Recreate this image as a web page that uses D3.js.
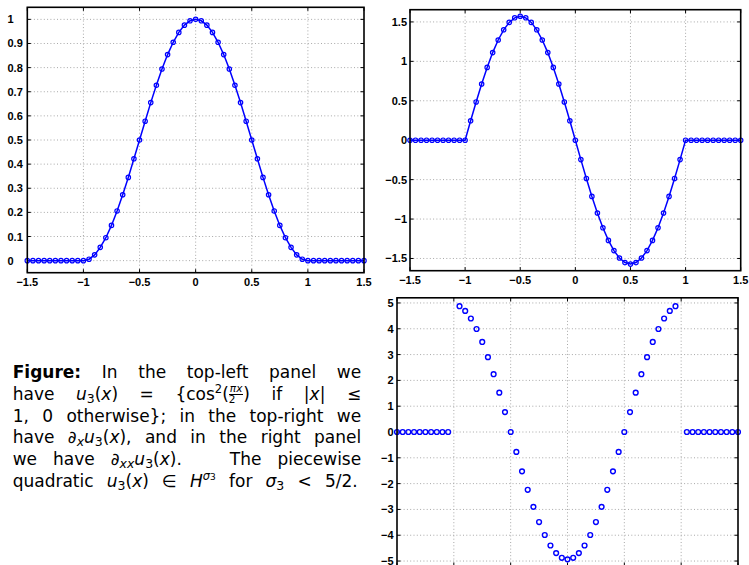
<!DOCTYPE html>
<html><head><meta charset="utf-8">
<script src="https://cdn.jsdelivr.net/npm/d3@7"></script>
<style>
html,body{margin:0;padding:0;background:#fff;}
#wrap{position:relative;width:749px;height:565px;overflow:hidden;}
svg{position:absolute;left:0;top:0;}
.cap{position:absolute;left:12.7px;width:348.5px;height:21.8px;line-height:21.8px;font-family:"DejaVu Sans",sans-serif;font-size:17px;color:#000;text-align:justify;text-align-last:justify;white-space:normal;}
.cap b{font-weight:bold;}
.cap i{font-style:italic;}
.cap sub{font-size:12.5px;vertical-align:-3px;line-height:0;}
.cap sup{font-size:11.5px;vertical-align:7px;line-height:0;}
.frac{display:inline-block;vertical-align:-3px;text-align:center;font-size:10.5px;line-height:9.5px;}
.frac .num{display:block;border-bottom:0.9px solid #000;padding:0 1px;}
.frac .den{display:block;}
</style></head>
<body><div id="wrap"><svg id="chart" width="749" height="565"></svg>
<div class="cap" style="top:362px"><b>Figure:</b> In the top-left panel we</div>
<div class="cap" style="top:383.8px">have <i>u</i><sub>3</sub>(<i>x</i>) = {cos<sup>2</sup>(<span class="frac"><span class="num"><i>πx</i></span><span class="den">2</span></span>) if |<i>x</i>| ≤</div>
<div class="cap" style="top:405.6px">1, 0 otherwise}; in the top-right we</div>
<div class="cap" style="top:427.4px">have <i>∂<sub>x</sub></i><i>u</i><sub>3</sub>(<i>x</i>), and in the right panel</div>
<div class="cap" style="top:449.2px">we have <i>∂<sub>xx</sub></i><i>u</i><sub>3</sub>(<i>x</i>). &nbsp;&nbsp;The piecewise</div>
<div class="cap" style="top:471px;width:345px;">quadratic <i>u</i><sub>3</sub>(<i>x</i>) ∈ <i>H</i><sup><i>σ</i><span style="font-size:9px">3</span></sup> for <i>σ</i><sub>3</sub> &lt; 5/2.</div>
</div>
<script>
// ---------- data ----------
const xVals = [-1.5,-1.45,-1.4,-1.35,-1.3,-1.25,-1.2,-1.15,-1.1,-1.05,-1,-0.95,-0.9,-0.85,-0.8,-0.75,-0.7,-0.65,-0.6,-0.55,-0.5,-0.45,-0.4,-0.35,-0.3,-0.25,-0.2,-0.15,-0.1,-0.05,0,0.05,0.1,0.15,0.2,0.25,0.3,0.35,0.4,0.45,0.5,0.55,0.6,0.65,0.7,0.75,0.8,0.85,0.9,0.95,1,1.05,1.1,1.15,1.2,1.25,1.3,1.35,1.4,1.45,1.5];
const u3 = [0,0,0,0,0,0,0,0,0,0,0,0.006,0.024,0.055,0.095,0.146,0.206,0.273,0.345,0.422,0.5,0.578,0.655,0.727,0.794,0.854,0.905,0.946,0.976,0.994,1,0.994,0.976,0.946,0.905,0.854,0.794,0.727,0.655,0.578,0.5,0.422,0.345,0.273,0.206,0.146,0.095,0.055,0.024,0.006,0,0,0,0,0,0,0,0,0,0,0];
const du3 = [0,0,0,0,0,0,0,0,0,0,0,0.246,0.485,0.713,0.923,1.111,1.271,1.400,1.494,1.552,1.571,1.552,1.494,1.400,1.271,1.111,0.923,0.713,0.485,0.246,0,-0.246,-0.485,-0.713,-0.923,-1.111,-1.271,-1.400,-1.494,-1.552,-1.571,-1.552,-1.494,-1.400,-1.271,-1.111,-0.923,-0.713,-0.485,-0.246,0,0,0,0,0,0,0,0,0,0,0];
const ddu3 = [0,0,0,0,0,0,0,0,0,0,null,4.874,4.693,4.397,3.992,3.489,2.901,2.240,1.525,0.772,0,-0.772,-1.525,-2.240,-2.901,-3.489,-3.992,-4.397,-4.693,-4.874,-4.935,-4.874,-4.693,-4.397,-3.992,-3.489,-2.901,-2.240,-1.525,-0.772,0,0.772,1.525,2.240,2.901,3.489,3.992,4.397,4.693,4.874,null,0,0,0,0,0,0,0,0,0,0];

const xTicks = [-1.5,-1,-0.5,0,0.5,1,1.5];
const xTickLabels = ["\u22121.5","\u22121","\u22120.5","0","0.5","1","1.5"];
const yTicksA = [0,0.1,0.2,0.3,0.4,0.5,0.6,0.7,0.8,0.9,1];
const yTickLabelsA = ["0","0.1","0.2","0.3","0.4","0.5","0.6","0.7","0.8","0.9","1"];
const yTicksB = [-1.5,-1,-0.5,0,0.5,1,1.5];
const yTickLabelsB = ["\u22121.5","\u22121","\u22120.5","0","0.5","1","1.5"];
const yTicksC = [-5,-4,-3,-2,-1,0,1,2,3,4,5];
const yTickLabelsC = ["\u22125","\u22124","\u22123","\u22122","\u22121","0","1","2","3","4","5"];

// ---------- drawing ----------
const svg = d3.select("#chart");
const BLUE = "#0000ff";
const FONT = "'Liberation Sans', Arial, sans-serif";

function panel(o){
  const x = d3.scaleLinear().domain([-1.5,1.5]).range([o.x0,o.x1]);
  const y = d3.scaleLinear().domain(o.ydom).range([o.y1,o.y0]);
  const g = svg.append("g");
  // grid
  g.selectAll(null).data(xTicks.filter(t=>t>-1.5&&t<1.5)).join("line")
    .attr("x1",d=>x(d)).attr("x2",d=>x(d)).attr("y1",o.y0).attr("y2",o.y1)
    .attr("stroke","#a8a8a8").attr("stroke-width",1).attr("stroke-dasharray","1,2.3");
  g.selectAll(null).data(o.yTicks).join("line")
    .attr("x1",o.x0).attr("x2",o.x1).attr("y1",d=>y(d)).attr("y2",d=>y(d))
    .attr("stroke","#a8a8a8").attr("stroke-width",1).attr("stroke-dasharray","1,2.3");
  // ticks (inside, all four sides)
  const tl = 3.5;
  xTicks.forEach(t=>{
    g.append("line").attr("x1",x(t)).attr("x2",x(t)).attr("y1",o.y1).attr("y2",o.y1-tl).attr("stroke","#000").attr("stroke-width",1);
    g.append("line").attr("x1",x(t)).attr("x2",x(t)).attr("y1",o.y0).attr("y2",o.y0+tl).attr("stroke","#000").attr("stroke-width",1);
  });
  o.yTicks.forEach(t=>{
    g.append("line").attr("x1",o.x0).attr("x2",o.x0+tl).attr("y1",y(t)).attr("y2",y(t)).attr("stroke","#000").attr("stroke-width",1);
    g.append("line").attr("x1",o.x1).attr("x2",o.x1-tl).attr("y1",y(t)).attr("y2",y(t)).attr("stroke","#000").attr("stroke-width",1);
  });
  // data
  const pts = xVals.map((xv,i)=>({x:xv,y:o.data[i]}));
  if(o.line){
    g.append("path").datum(pts)
      .attr("d",d3.line().defined(d=>d.y!=null).x(d=>x(d.x)).y(d=>y(d.y)))
      .attr("fill","none").attr("stroke",BLUE).attr("stroke-width",1.5);
  }
  g.selectAll(null).data(pts.filter(d=>d.y!=null)).join("circle")
    .attr("cx",d=>x(d.x)).attr("cy",d=>y(d.y)).attr("r",o.r)
    .attr("fill","none").attr("stroke",BLUE).attr("stroke-width",o.sw);
  // box
  g.append("rect").attr("x",o.x0).attr("y",o.y0).attr("width",o.x1-o.x0).attr("height",o.y1-o.y0)
    .attr("fill","none").attr("stroke","#000").attr("stroke-width",1.6);
  // labels
  if(o.xLabelY!=null){
    g.selectAll(null).data(xTicks).join("text")
      .attr("x",(d)=>x(d)).attr("y",o.xLabelY).attr("text-anchor","middle")
      .attr("font-family",FONT).attr("font-weight","bold").attr("font-size",11)
      .text((d,i)=>xTickLabels[i]);
  }
  g.selectAll(null).data(o.yTicks).join("text")
    .attr("x",o.yLabelX).attr("y",d=>y(d)+4).attr("text-anchor",o.yAnchor)
    .attr("font-family",FONT).attr("font-weight","bold").attr("font-size",11)
    .text((d,i)=>o.yLabels[i]);
}

panel({x0:27.3,x1:364,y0:7.3,y1:272.7,ydom:[-0.05,1.05],yTicks:yTicksA,yLabels:yTickLabelsA,
  data:u3,line:true,r:2.2,sw:1.2,xLabelY:286,yLabelX:7.5,yAnchor:"start"});
panel({x0:410,x1:740.7,y0:9.7,y1:270.7,ydom:[-1.655,1.655],yTicks:yTicksB,yLabels:yTickLabelsB,
  data:du3,line:true,r:2.2,sw:1.2,xLabelY:284,yLabelX:407,yAnchor:"end"});
panel({x0:397,x1:738,y0:297.8,y1:566.2,ydom:[-5.2,5.2],yTicks:yTicksC,yLabels:yTickLabelsC,
  data:ddu3,line:false,r:2.4,sw:1.4,xLabelY:null,yLabelX:393.5,yAnchor:"end"});
</script></body></html>
